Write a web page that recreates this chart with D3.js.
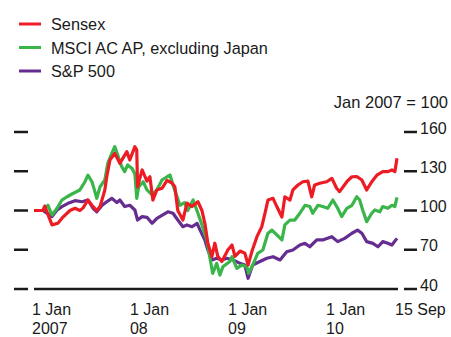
<!DOCTYPE html>
<html><head><meta charset="utf-8">
<script src="https://cdn.jsdelivr.net/npm/d3@7"></script>
<style>
html,body{margin:0;padding:0;background:#fff;}
svg{display:block;font-family:"Liberation Sans",Arial,sans-serif;}
</style></head><body>
<svg id="c" width="451" height="337"></svg>
<script>
const seriesNames = ["Sensex", "MSCI AC AP, excluding Japan", "S&P 500"];
const seriesColors = ["#ED1C24", "#39B54A", "#662D91"];
const yTicks = [40, 70, 100, 130, 160];
const xTickDates = ["2007-01-01", "2008-01-01", "2009-01-01", "2010-01-01", "2010-09-15"];
const xTickLine1 = ["1 Jan", "1 Jan", "1 Jan", "1 Jan", "15 Sep"];
const xTickLine2 = ["2007", "08", "09", "10", ""];
const unitNote = "Jan 2007 = 100";

const sensex = [
["2007-01-01",100],["2007-02-03",100],["2007-02-10",103.4],["2007-03-09",89],["2007-03-31",90.2],
["2007-04-19",95],["2007-05-15",100],["2007-06-03",101.7],["2007-06-21",100],["2007-07-03",102],
["2007-07-21",108],["2007-08-05",104],["2007-08-23",100],["2007-09-04",103],["2007-09-22",115.7],
["2007-09-29",125.6],["2007-10-11",138.6],["2007-10-29",143.7],["2007-11-17",136],["2007-12-13",145],
["2007-12-24",138.6],["2008-01-12",148.8],["2008-01-19",146.2],["2008-01-22",118],["2008-02-08",131],
["2008-02-26",122.5],["2008-03-08",125.8],["2008-03-19",108],["2008-04-03",115.7],["2008-04-22",117],
["2008-05-11",123],["2008-05-29",121],["2008-06-09",118.2],["2008-06-20",100],["2008-07-09",92.7],
["2008-07-24",105.7],["2008-08-12",103],["2008-09-03",106.7],["2008-09-18",100],["2008-09-29",90],
["2008-10-10",75],["2008-10-25",64.7],["2008-11-05",75],["2008-11-16",65],["2008-12-01",61],
["2008-12-24",70],["2009-01-08",73.6],["2009-01-19",65],["2009-02-07",69],["2009-02-25",67.3],
["2009-03-09",58.3],["2009-03-23",68.6],["2009-04-11",80],["2009-04-29",87.6],["2009-05-11",98],
["2009-05-22",108],["2009-06-10",109.3],["2009-06-24",103],["2009-07-13",95],["2009-07-24",110.5],
["2009-08-12",108],["2009-08-23",115.7],["2009-09-11",119.5],["2009-09-29",122],["2009-10-18",122.5],
["2009-11-01",110.5],["2009-11-12",119.5],["2009-12-01",120.8],["2009-12-27",122],["2010-01-15",124.6],
["2010-02-02",117],["2010-02-13",114.4],["2010-03-12",122],["2010-03-31",125.8],["2010-04-18",126],
["2010-05-07",123.3],["2010-05-25",115.7],["2010-06-13",122],["2010-07-02",127],["2010-07-24",129.7],
["2010-08-12",129.7],["2010-08-27",131],["2010-09-07",129.7],["2010-09-15",140]
];
const msci = [
["2007-01-01",100],["2007-02-03",100],["2007-02-22",104],["2007-03-09",96.6],["2007-03-28",101.7],
["2007-04-15",108],["2007-05-04",110.5],["2007-05-26",113],["2007-06-21",115.7],["2007-07-10",122],
["2007-07-21",127],["2007-08-05",122],["2007-08-16",114.4],["2007-08-23",109.3],["2007-09-04",118],
["2007-09-22",123.3],["2007-10-03",136],["2007-10-18",143.7],["2007-10-29",148.8],["2007-11-09",142.4],
["2007-11-24",133.5],["2007-12-05",129.7],["2007-12-16",134.8],["2008-01-01",132.2],["2008-01-12",128],
["2008-01-19",109.3],["2008-01-26",118],["2008-02-12",122],["2008-02-26",115.7],["2008-03-16",112],
["2008-04-03",115.7],["2008-04-22",123.3],["2008-05-11",125.8],["2008-05-22",127.1],["2008-06-02",119.5],
["2008-06-28",104],["2008-07-15",106],["2008-07-27",100],["2008-08-16",108],["2008-09-03",97.9],
["2008-09-18",89],["2008-10-06",77.5],["2008-10-17",64.7],["2008-10-28",52],["2008-11-12",59.6],
["2008-11-24",50.7],["2008-12-05",57],["2008-12-31",61],["2009-01-08",64.7],["2009-01-26",55.8],
["2009-02-13",58.3],["2009-03-04",57],["2009-03-11",52],["2009-03-26",58.3],["2009-04-14",67.3],
["2009-05-03",69.8],["2009-05-22",82.6],["2009-06-06",85],["2009-06-24",81.3],["2009-07-13",77.5],
["2009-07-24",89],["2009-08-12",92.7],["2009-08-30",92.7],["2009-09-18",97.9],["2009-10-07",104],
["2009-10-25",103],["2009-11-05",97.9],["2009-11-24",104],["2009-12-12",103],["2009-12-31",101.7],
["2010-01-19",108],["2010-02-06",101.7],["2010-02-21",95.3],["2010-03-12",101.7],["2010-03-31",104],
["2010-04-18",110.5],["2010-04-29",108],["2010-05-10",100.4],["2010-05-25",91.5],["2010-06-13",97.9],
["2010-06-24",100.4],["2010-07-13",99],["2010-07-24",103],["2010-08-12",101.7],["2010-08-27",104],
["2010-09-07",103],["2010-09-15",110]
];
const sp500 = [
["2007-01-01",100],["2007-02-03",100],["2007-03-09",95.3],["2007-03-28",100.4],["2007-04-15",103],
["2007-05-08",105.5],["2007-06-03",107.5],["2007-06-29",106.7],["2007-07-21",108],["2007-08-09",101.7],
["2007-08-23",99],["2007-09-12",104],["2007-09-29",106.7],["2007-10-18",109.3],["2007-11-06",106],
["2007-11-17",108],["2007-12-05",103],["2007-12-24",104],["2008-01-12",100.4],["2008-01-22",92.7],
["2008-02-08",95.3],["2008-02-26",94.8],["2008-03-16",90.2],["2008-04-03",94],["2008-04-25",96.6],
["2008-05-14",99],["2008-06-02",97.9],["2008-06-20",92.7],["2008-07-09",87.6],["2008-07-24",89],
["2008-08-12",87.6],["2008-08-31",90.2],["2008-09-11",85],["2008-09-29",77.5],["2008-10-10",69.8],
["2008-10-25",62.2],["2008-11-12",63.5],["2008-12-01",62.2],["2008-12-20",63.5],["2009-01-12",62.2],
["2009-02-07",59.6],["2009-02-25",58.3],["2009-03-09",48.2],["2009-03-26",58.3],["2009-04-22",61],
["2009-05-18",63.5],["2009-06-10",64.7],["2009-07-06",62.2],["2009-07-31",68.5],["2009-08-23",69.8],
["2009-09-18",73.6],["2009-10-07",74.9],["2009-10-25",72.3],["2009-11-20",77.5],["2009-12-12",77.5],
["2010-01-15",80],["2010-02-06",76.2],["2010-03-04",78.7],["2010-03-31",82.6],["2010-04-21",85],
["2010-05-07",82.6],["2010-05-25",76.2],["2010-06-17",74.9],["2010-07-06",72.3],["2010-07-24",76.2],
["2010-08-12",74.9],["2010-08-27",73.6],["2010-09-15",78.7]
];

const parse = d3.timeParse("%Y-%m-%d");
const svg = d3.select("#c");
const x = d3.scaleTime().domain([parse("2007-01-01"), parse("2010-09-15")]).range([34, 397]);
const y = d3.scaleLinear().domain([40, 160]).range([289, 132]);
const ink = "#1a1a1a";

// legend
seriesNames.forEach((n, i) => {
  const ly = 24 + i * 23.5;
  svg.append("line").attr("x1", 19).attr("x2", 41).attr("y1", ly).attr("y2", ly)
    .attr("stroke", seriesColors[i]).attr("stroke-width", 3);
  svg.append("text").attr("x", 51).attr("y", ly + 6).attr("font-size", 16.3).attr("fill", ink).text(n);
});

svg.append("text").attr("x", 448).attr("y", 108).attr("text-anchor", "end")
  .attr("font-size", 16.5).attr("fill", ink).text(unitNote);

// y ticks
yTicks.forEach(t => {
  svg.append("line").attr("x1", 14).attr("x2", 28).attr("y1", y(t)).attr("y2", y(t))
    .attr("stroke", ink).attr("stroke-width", 2.5);
  svg.append("line").attr("x1", 404).attr("x2", 417).attr("y1", y(t)).attr("y2", y(t))
    .attr("stroke", ink).attr("stroke-width", 2.5);
  svg.append("text").attr("x", 420).attr("y", y(t) + 1.5).attr("font-size", 16).attr("fill", ink).text(t);
});

// x axis baseline
svg.append("line").attr("x1", 34).attr("x2", 398).attr("y1", y(40)).attr("y2", y(40))
  .attr("stroke", ink).attr("stroke-width", 2.5);

xTickDates.forEach((d, i) => {
  const tx = x(parse(d)) - 2;
  svg.append("text").attr("x", tx).attr("y", 314.5).attr("font-size", 16).attr("fill", ink).text(xTickLine1[i]);
  if (xTickLine2[i]) svg.append("text").attr("x", tx).attr("y", 333.5).attr("font-size", 16).attr("fill", ink).text(xTickLine2[i]);
});

const line = d3.line().x(d => x(parse(d[0]))).y(d => y(d[1]));
[[sp500, 2], [msci, 1], [sensex, 0]].forEach(([data, i]) => {
  svg.append("path").datum(data).attr("d", line).attr("fill", "none")
    .attr("stroke", seriesColors[i]).attr("stroke-width", 3.2)
    .attr("stroke-linejoin", "round").attr("stroke-linecap", "butt");
});
</script>
</body></html>
